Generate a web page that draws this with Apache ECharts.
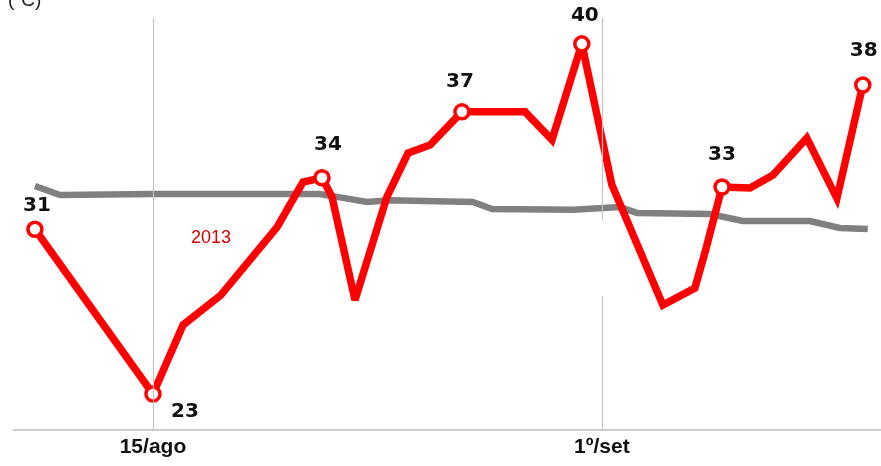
<!DOCTYPE html>
<html>
<head>
<meta charset="utf-8">
<script src="https://cdn.jsdelivr.net/npm/echarts@6/dist/echarts.min.js"></script>
<style>html,body{margin:0;padding:0;background:#fff;}#c{width:881px;height:466px;}</style>
</head>
<body>
<div id="c"></div>
<script>
// Day numbers counted from 1 August (15 = 15/ago, 32 = 1º/set)
var redDays = [10.53, 15.0, 16.14, 17.57, 19.70, 20.68, 21.40, 21.78, 22.65, 23.86, 24.66, 25.49, 26.70,
               29.09, 30.11, 31.24, 32.38, 34.31, 35.52, 35.90, 36.55, 37.61, 38.48, 39.76, 40.90, 41.88];
var redTemps = [31.0, 23.0, 26.35, 27.8, 31.1, 33.29, 33.5, 32.57, 27.56, 32.57, 34.7, 35.09, 36.7,
                36.7, 35.34, 40.0, 33.15, 27.32, 28.14, 29.85, 33.05, 33.0, 33.63, 35.43, 32.5, 38.0];
var greyDays = [10.53, 11.48, 15.0, 21.32, 22.2, 23.10, 23.97, 27.12, 27.84, 30.90, 32.68, 33.33,
                36.09, 37.34, 39.88, 41.01, 42.07];
var greyTemps = [33.10, 32.66, 32.71, 32.71, 32.52, 32.32, 32.41, 32.32, 31.98, 31.94, 32.08, 31.79,
                 31.74, 31.40, 31.40, 31.06, 31.01];
var tickDays = [15, 32];
var tickLabels = ['15/ago', '1º/set'];
var labeledIdx = [0, 1, 6, 12, 15, 20, 25];
var seriesName = '2013';
var unitLabel = '(ºC)';

// styling: label offsets for the highlighted points
var labelOffsets = [[2, -23], [32, 18], [6, -33], [-2, -30], [3, -28], [0, -32], [1, -34]];

var redData = redDays.map(function (d, i) {
  var k = labeledIdx.indexOf(i);
  var item = { value: [d, redTemps[i]] };
  if (k >= 0) {
    item.label = {
      show: true, position: 'inside', offset: labelOffsets[k],
      formatter: function (p) { return String(Math.round(p.value[1])); },
      fontFamily: 'DejaVu Sans', fontWeight: 'bold', fontSize: 20, color: '#111'
    };
  }
  return item;
});
var greyData = greyDays.map(function (d, i) { return [d, greyTemps[i]]; });

var chart = echarts.init(document.getElementById('c'));
chart.setOption({
  animation: false,
  backgroundColor: '#fff',
  grid: { left: 13, right: 0, top: 0, bottom: 36 },
  xAxis: {
    type: 'value', min: 9.70, max: 42.57,
    axisLine: { show: true, lineStyle: { color: '#bdbdbd', width: 1.5 } },
    axisTick: { show: false },
    splitLine: { show: false },
    axisLabel: {
      customValues: tickDays, margin: 7,
      formatter: function (v) { var k = tickDays.indexOf(v); return k >= 0 ? tickLabels[k] : ''; },
      fontFamily: 'Liberation Sans', fontWeight: 'bold', fontSize: 21, color: '#111'
    }
  },
  yAxis: {
    type: 'value', min: 21.25, max: 42.13,
    show: false, splitLine: { show: false }
  },
  graphic: [
    { type: 'text', left: 8, top: -9, style: { text: unitLabel, font: '19px "Liberation Sans"', fill: '#222' } },
    { type: 'text', x: 211, y: 238, style: { text: seriesName, font: '18px "Liberation Sans"', fill: '#d40000', align: 'center', verticalAlign: 'middle' } }
  ],
  series: [
    {
      type: 'line', z: 2, data: greyData, symbol: 'none', silent: true,
      lineStyle: { color: '#808080', width: 6.5, join: 'miter' },
      markLine: {
        symbol: 'none', silent: true, label: { show: false },
        lineStyle: { color: '#c4c4c4', width: 1.2, type: 'solid' },
        data: [
          [{ coord: [15, 41.26] }, { coord: [15, 21.25] }],
          [{ coord: [32, 41.26] }, { coord: [32, 31.45] }],
          [{ coord: [32, 27.76] }, { coord: [32, 21.25] }]
        ]
      }
    },
    {
      type: 'line', z: 3, data: redData, silent: true,
      symbol: 'circle', showSymbol: true, showAllSymbol: true,
      symbolSize: function (v, p) { return labeledIdx.indexOf(p.dataIndex) >= 0 ? 14 : 0; },
      itemStyle: { color: '#fff', borderColor: '#ff0000', borderWidth: 3.5 },
      lineStyle: { color: '#ff0000', width: 7.5, join: 'miter', miterLimit: 3 },
      label: { show: false }
    }
  ]
});
</script>
</body>
</html>
